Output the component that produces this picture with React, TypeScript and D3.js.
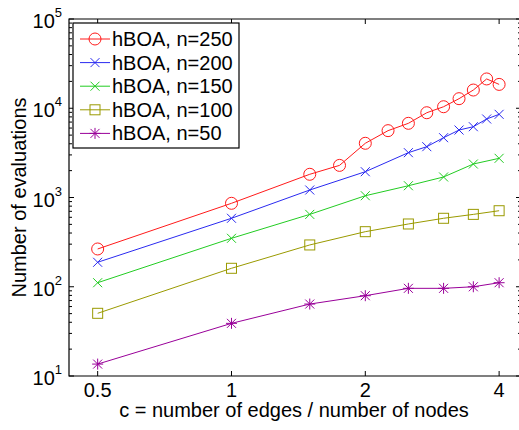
import React from 'react';
import * as d3 from 'd3';

// ==== data

const cFine = [0.5, 1, 1.5, 1.75, 2, 2.25, 2.5, 2.75, 3, 3.25, 3.5, 3.75, 4];
const cMid = [0.5, 1, 1.5, 2, 2.5, 2.75, 3, 3.25, 3.5, 3.75, 4];
const cCoarse = [0.5, 1, 1.5, 2, 2.5, 3, 3.5, 4];

const evals250 = [265, 861, 1820, 2290, 4050, 5610, 6780, 8910, 10400, 12800, 16000, 21300, 18500];
const evals200 = [188, 585, 1213, 1945, 3180, 3710, 4680, 5700, 6210, 7580, 8550];
const evals150 = [111, 349, 647, 1047, 1355, 1698, 2373, 2748];
const evals100 = [50.4, 161, 294, 414, 505, 585, 647, 711];
const evals50 = [13.6, 38.9, 64, 79.4, 96, 96, 100, 111];

const seriesNames = ['hBOA, n=250', 'hBOA, n=200', 'hBOA, n=150', 'hBOA, n=100', 'hBOA, n=50'];
const xTicks = [0.5, 1, 2, 4];
const yTicks = [1, 2, 3, 4, 5];

// ====

const FONT = '"Liberation Sans", Arial, Helvetica, sans-serif';
const W = 519;
const H = 430;

const series = [
    { name: seriesNames[0], xs: cFine, ys: evals250, color: '#ff1a1a', marker: 'circle' },
    { name: seriesNames[1], xs: cMid, ys: evals200, color: '#2a2af0', marker: 'x' },
    { name: seriesNames[2], xs: cCoarse, ys: evals150, color: '#22cc22', marker: 'x' },
    { name: seriesNames[3], xs: cCoarse, ys: evals100, color: '#9a9a00', marker: 'square' },
    { name: seriesNames[4], xs: cCoarse, ys: evals50, color: '#990099', marker: 'star' }
];

function Marker({ kind, x, y, color }) {
    if (kind === 'circle') {
        return <circle cx={x} cy={y} r={6} fill="none" stroke={color} strokeWidth={1} />;
    }
    if (kind === 'square') {
        return <rect x={x - 5} y={y - 5} width={10} height={10} fill="none" stroke={color} strokeWidth={1} />;
    }
    const s = 4.5;
    const cross = `M${x - s},${y - s}L${x + s},${y + s}M${x - s},${y + s}L${x + s},${y - s}`;
    if (kind === 'x') {
        return <path d={cross} fill="none" stroke={color} strokeWidth={1} />;
    }
    const p = 5.5;
    const plus = `M${x - p},${y}L${x + p},${y}M${x},${y - p}L${x},${y + p}`;
    return <path d={cross + plus} fill="none" stroke={color} strokeWidth={1} />;
}

export default function App() {
    const left = 69;
    const right = 521;
    const top = 19;
    const bottom = 376;

    const x = d3.scaleLog().domain([0.431, 4.48]).range([left, right]);
    const y = d3.scaleLog().domain([10, 1e5]).range([bottom, top]);

    const line = d3.line<[number, number]>()
        .x((d) => x(d[0]))
        .y((d) => y(d[1]));

    const minorY: number[] = [];
    for (let e = 1; e < 5; e++) {
        for (let m = 2; m <= 9; m++) minorY.push(m * Math.pow(10, e));
    }

    const legX = 73;
    const legY = 23;
    const legW = 166;
    const legH = 125;
    const rowH = 23.6;

    return (
        <svg width={W} height={H} style={{ position: 'absolute', left: 0, top: 0, background: '#fff' }}
            fontFamily={FONT}>
            <rect x={0} y={0} width={W} height={H} fill="#fff" />

            {/* data */}
            {series.map((s) => {
                const pts = s.xs.map((c, i) => [c, s.ys[i]] as [number, number]);
                return (
                    <g key={s.name}>
                        <path d={line(pts) || ''} fill="none" stroke={s.color} strokeWidth={1} />
                        {pts.map((p, i) => (
                            <Marker key={i} kind={s.marker} x={x(p[0])} y={y(p[1])} color={s.color} />
                        ))}
                    </g>
                );
            })}

            {/* axes box */}
            <path d={`M${left},${top}H${right}V${bottom}H${left}Z`} fill="none" stroke="#000" strokeWidth={1.2} />

            {xTicks.map((t) => (
                <g key={t}>
                    <line x1={x(t)} x2={x(t)} y1={bottom} y2={bottom - 5} stroke="#000" />
                    <line x1={x(t)} x2={x(t)} y1={top} y2={top + 5} stroke="#000" />
                    <text x={x(t)} y={397} textAnchor="middle" fontSize={20}>{t}</text>
                </g>
            ))}

            {minorY.map((v) => (
                <g key={v}>
                    <line x1={left} x2={left + 3} y1={y(v)} y2={y(v)} stroke="#000" />
                    <line x1={right} x2={right - 3} y1={y(v)} y2={y(v)} stroke="#000" />
                </g>
            ))}

            {yTicks.map((e) => {
                const yy = y(Math.pow(10, e));
                return (
                    <g key={e}>
                        <line x1={left} x2={left + 5} y1={yy} y2={yy} stroke="#000" />
                        <line x1={right} x2={right - 5} y1={yy} y2={yy} stroke="#000" />
                        <text x={62} y={yy + 9} textAnchor="end" fontSize={20}>
                            10<tspan fontSize={13} dy={-11}>{e}</tspan>
                        </text>
                    </g>
                );
            })}

            <text x={(left + right) / 2 - 1} y={417} textAnchor="middle" fontSize={20}>
                c = number of edges / number of nodes
            </text>
            <text transform={`translate(26,${(top + bottom) / 2}) rotate(-90)`} textAnchor="middle" fontSize={20}>
                Number of evaluations
            </text>

            {/* legend */}
            <rect x={legX} y={legY} width={legW} height={legH} fill="#fff" stroke="#000" strokeWidth={1.2} />
            {series.map((s, i) => {
                const yy = legY + 16 + i * rowH;
                return (
                    <g key={s.name}>
                        <line x1={80} x2={110} y1={yy} y2={yy} stroke={s.color} />
                        <Marker kind={s.marker} x={95} y={yy} color={s.color} />
                        <text x={112} y={yy + 7} fontSize={20}>{s.name}</text>
                    </g>
                );
            })}
        </svg>
    );
}
